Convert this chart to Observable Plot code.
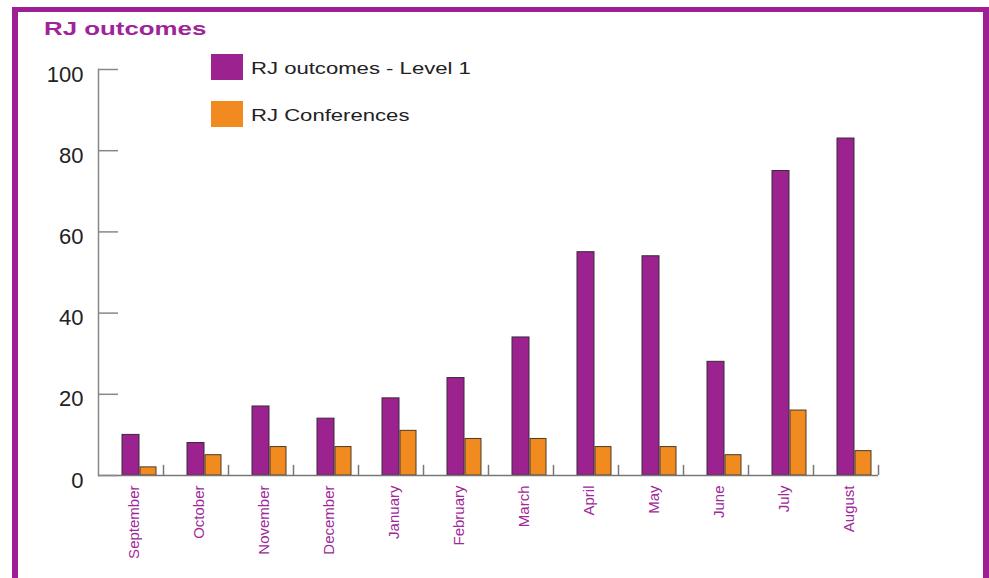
<!DOCTYPE html>
<html>
<head>
<meta charset="utf-8">
<script src="https://cdn.jsdelivr.net/npm/d3@7"></script>
<script src="https://cdn.jsdelivr.net/npm/@observablehq/plot@0.6"></script>
<style>
  html, body { margin: 0; padding: 0; background: #fff; }
  body { width: 989px; height: 578px; position: relative; overflow: hidden; font-family: "Liberation Sans", Arial, sans-serif; }
  #frame { position: absolute; left: 12px; top: 7px; width: 965px; height: 620px; border-left: 6px solid #9e1f94; border-top: 5px solid #9e1f94; border-right: 7px solid #9e1f94; }
  #title { position: absolute; left: 44px; top: 18px; font-size: 19px; font-weight: bold; color: #a0239a; transform: scaleX(1.36); transform-origin: left center; white-space: nowrap; }
  .sw { position: absolute; left: 211px; width: 32px; height: 26px; }
  .lt { position: absolute; left: 251px; font-size: 17px; color: #222; transform: scaleX(1.3); transform-origin: left center; white-space: nowrap; }
  #chart { position: absolute; left: 0; top: 0; }
</style>
</head>
<body>
<div id="frame"></div>
<div id="title">RJ outcomes</div>
<div id="legend"></div>
<div id="chart"></div>
<script>
const months = ["September","October","November","December","January","February","March","April","May","June","July","August"];
const outcomesLevel1 = [10, 8, 17, 14, 19, 24, 34, 55, 54, 28, 75, 83];
const conferences = [2, 5, 7, 7, 11, 9, 9, 7, 7, 5, 16, 6];
const seriesNames = ["RJ outcomes - Level 1", "RJ Conferences"];
const seriesColors = ["#9c2290", "#f28b1f"];
const yTicks = [0, 20, 40, 60, 80, 100];

const purpleData = months.map((m, i) => ({month: m, value: outcomesLevel1[i]}));
const orangeData = months.map((m, i) => ({month: m, value: conferences[i]}));

// legend
const legend = document.getElementById("legend");
seriesNames.forEach((name, i) => {
  const top = i === 0 ? 54 : 101;
  const sw = document.createElement("div");
  sw.className = "sw";
  sw.style.top = top + "px";
  sw.style.background = seriesColors[i];
  legend.appendChild(sw);
  const t = document.createElement("div");
  t.className = "lt";
  t.style.top = (top + 5) + "px";
  t.textContent = name;
  legend.appendChild(t);
});

const chart = Plot.plot({
  width: 989,
  height: 578,
  marginLeft: 98,
  marginRight: 111,
  marginTop: 69,
  marginBottom: 103,
  style: {background: "transparent", fontFamily: "Liberation Sans, Arial, sans-serif"},
  x: {domain: months, padding: 0, paddingInner: 0, paddingOuter: 0},
  y: {domain: [0, 100]},
  marks: [
    Plot.barY(purpleData, {x: "month", y: "value", fill: seriesColors[0], stroke: "#3a2a3a", strokeWidth: 1, insetLeft: 24, insetRight: 24}),
    Plot.barY(orangeData, {x: "month", y: "value", fill: seriesColors[1], stroke: "#4a3a2a", strokeWidth: 1, insetLeft: 42, insetRight: 7}),
    Plot.ruleX(months, {x: d => d, dx: 32.5, y1: 0, y2: 2.5, stroke: "#777", strokeWidth: 1.5}),
    Plot.ruleY([0], {stroke: "#777", strokeWidth: 1.5}),
    Plot.frame({anchor: "left", stroke: "#888", strokeWidth: 1.5}),
    Plot.axisY({ticks: yTicks, tickSize: -20, tickFormat: () => "", label: null, stroke: "#888", strokeWidth: 1.5}),
    Plot.axisY({ticks: yTicks, tickSize: 0, tickPadding: 15, fontSize: 22, label: null, fill: "#222", dy: 5}),
    Plot.axisX({tickRotate: -90, tickSize: 0, tickPadding: 10, fontSize: 15, label: null, fill: "#a02898", dx: 3})
  ]
});
document.getElementById("chart").appendChild(chart);
</script>
</body>
</html>
